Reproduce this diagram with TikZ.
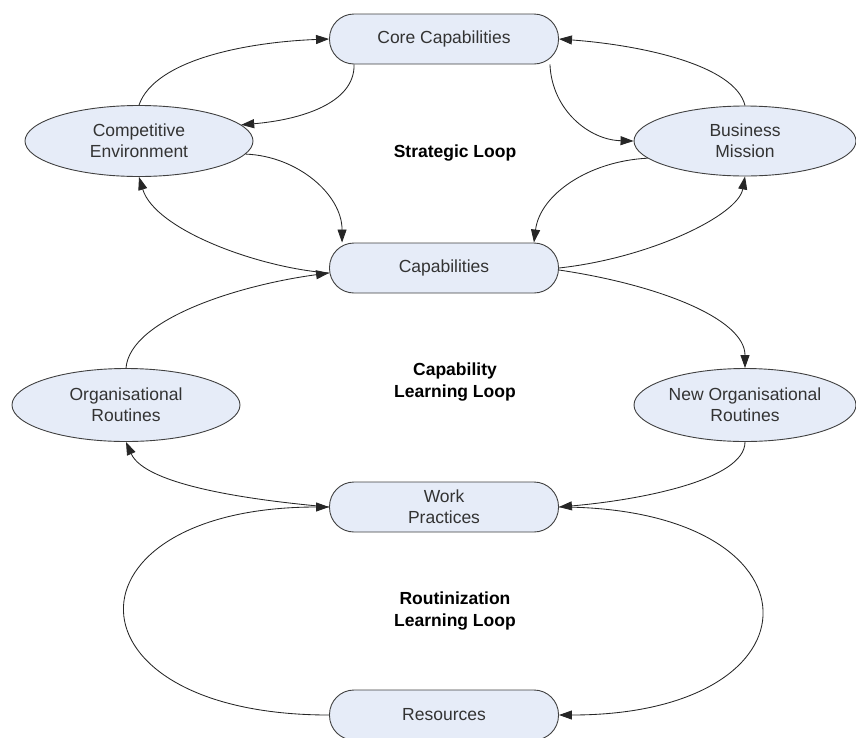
\documentclass[tikz,border=0pt]{standalone}
\usepackage{fontspec}
\setmainfont{Liberation Sans}
\usetikzlibrary{arrows.meta,calc,shapes.geometric}
\definecolor{boxfill}{HTML}{E6ECF8}
\definecolor{boxdraw}{HTML}{404040}
\definecolor{txt}{HTML}{333333}
\begin{document}
\begin{tikzpicture}[x=1pt,y=-1pt,
  every node/.style={font=\fontsize{17.5}{21}\selectfont, text=txt},
  pill/.style={draw=boxdraw, fill=boxfill, line width=0.9pt, rounded corners=24.5pt,
    minimum width=229pt, minimum height=50pt, align=center, inner sep=2pt},
  oval/.style={draw=boxdraw, fill=boxfill, line width=0.9pt, ellipse, align=center, inner sep=0pt},
  looplabel/.style={font=\bfseries\fontsize{17.5}{22}\selectfont, text=black, align=center},
  conn/.style={draw=black!85, line width=0.85pt, -{Triangle[length=13pt,width=9pt]}},
  plain/.style={draw=black!85, line width=0.85pt}]
\useasboundingbox (0,0) rectangle (856,737);

\node[pill] (cc) at (444,39) {Core Capabilities};
\node[pill] (cap) at (444,268) {Capabilities};
\node[pill] (wp) at (444,507) {Work\\Practices};
\node[pill] (res) at (444,715) {Resources};

\node[oval, minimum width=228pt, minimum height=71pt] (ce) at (139,141) {Competitive\\Environment};
\node[oval, minimum width=222pt, minimum height=70pt] (bm) at (745,141) {Business\\Mission};
\node[oval, minimum width=228pt, minimum height=73pt] (orr) at (126,405) {Organisational\\Routines};
\node[oval, minimum width=222pt, minimum height=73pt] (nor) at (745,405) {New Organisational\\Routines};

\node[looplabel] (l1) at (455,153) {Strategic Loop};
\node[looplabel] (l2) at (455,382) {Capability\\Learning Loop};
\node[looplabel] (l3) at (455,611) {Routinization\\Learning Loop};

% strategic loop
\draw[conn] (ce.north) .. controls +(16,-46) and +(-80,3) .. (cc.west);
\draw[conn] ($(cc.south west)+(25,0)$) .. controls +(1,39) and +(59,-5) .. (ce.9);
\draw[conn] (ce.-7) .. controls +(52,2) and +(0,-48) .. ($(cap.north west)+(13,0)$);
\draw[conn] ($(cap.west)+(0,5)$) .. controls +(-70,-5) and +(16,53) .. (ce.south);
\draw[conn] (bm.north) .. controls +(-10,-41) and +(81,6) .. (cc.east);
\draw[conn] ($(cc.south east)+(-9,0)$) .. controls +(2,46) and +(-44,-1) .. (bm.west);
\draw[conn] (bm.190) .. controls +(-59,3) and +(6,-48) .. ($(cap.north east)+(-25,0)$);
\draw[conn] (cap.east) .. controls +(91,-10) and +(-7,39) .. (bm.south);

% capability learning loop
\draw[conn] ($(cap.east)+(0,2)$) .. controls +(101,15) and +(0,-49) .. (nor.north);
\draw[conn] (orr.north) .. controls +(4,-49) and +(-90,12) .. ($(cap.west)+(0,5)$);
\draw[conn] (wp.west) .. controls +(-80,-7) and +(19,43) .. (orr.south);
\draw[conn] (nor.south) .. controls +(0,38) and +(81,-7) .. (wp.east);

% routinization loop
\draw[conn] (res.west) .. controls +(-272,0) and +(-272,0) .. (wp.west);
\draw[conn] (wp.east) .. controls +(270,0) and +(270,0) .. (res.east);
\end{tikzpicture}
\end{document}
